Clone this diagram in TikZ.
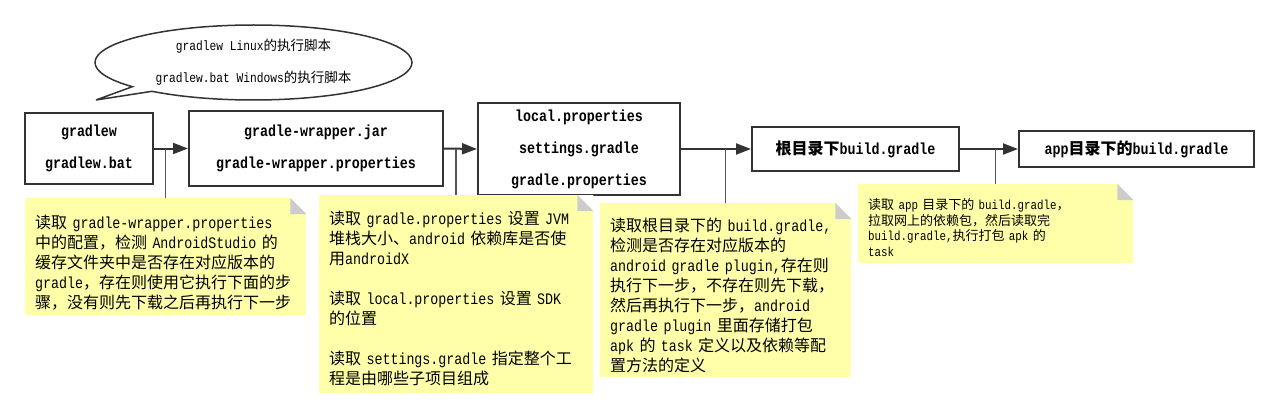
\documentclass[tikz,border=0pt]{standalone}
\usepackage{fontspec}
\usetikzlibrary{arrows.meta,shapes.callouts}
\setmainfont{Liberation Mono}[Scale=1.2, FakeStretch=0.833]
\newfontfamily\monofam{Liberation Mono}[Scale=1.2, FakeStretch=0.833]
\newfontfamily\cjkfam{Noto Sans CJK SC}[Scale=1.2]
% switch to the CJK font for Chinese characters
\XeTeXinterchartokenstate=1
\newXeTeXintercharclass\cjkclass
\newcount\cjkcode
\def\setcjkrange#1#2{\cjkcode=#1 \loop\XeTeXcharclass\cjkcode=\cjkclass \ifnum\cjkcode<#2 \advance\cjkcode by 1 \repeat}
\setcjkrange{"3000}{"303F}
\setcjkrange{"4E00}{"9FFF}
\setcjkrange{"FF00}{"FFEF}
\XeTeXinterchartoks 0 \cjkclass = {\cjkfam}
\XeTeXinterchartoks 4095 \cjkclass = {\cjkfam}
\XeTeXinterchartoks \cjkclass 0 = {\monofam}
\XeTeXinterchartoks \cjkclass 4095 = {\monofam}
\definecolor{boxline}{HTML}{333333}
\definecolor{notefill}{HTML}{FFFFAA}
\definecolor{foldgray}{HTML}{CCCCCC}
\definecolor{linkgray}{HTML}{555555}
\begin{document}
\begin{tikzpicture}[x=1pt, y=-1pt,
  box/.style = {draw=boxline, line width=2pt, align=center, inner sep=0pt, font=\fontsize{13.33}{32}\selectfont\bfseries},
  note/.style = {fill=notefill, anchor=north west, align=left, inner xsep=10pt, inner ysep=0pt, font=\fontsize{13.33}{20}\selectfont},
  arr/.style = {draw=boxline, line width=2pt, -{Triangle[length=15pt,width=11pt]}},
  link/.style = {draw=linkgray, line width=1.5pt}]
\useasboundingbox (0,0) rectangle (1279,417);

\node[box, minimum width=128pt, minimum height=71pt] (1) at (89,148.5) {gradlew\\gradlew.bat};
\node[box, minimum width=254pt, minimum height=75pt] (2) at (316,148.5) {gradle-wrapper.jar\\gradle-wrapper.properties};
\node[box, minimum width=202pt, minimum height=92pt] (3) at (579,149) {local.properties\\settings.gradle\\gradle.properties};
\node[box, minimum width=207pt, minimum height=44pt] (4) at (855.5,149) {根目录下build.gradle};
\node[box, minimum width=235pt, minimum height=36pt] (5) at (1136.5,149) {app目录下的build.gradle};

\node[ellipse callout, draw=boxline, line width=1.5pt, minimum width=317pt, minimum height=75pt, inner sep=0pt, align=center,
  callout absolute pointer={(96,100)}, callout pointer arc=10, font=\fontsize{11.25}{32}\selectfont] (c) at (253.5,62.5)
  {gradlew Linux的执行脚本\\gradlew.bat Windows的执行脚本};

\node[note, text width=261pt, text height=30pt, text depth=87pt] (n1) at (25,198)
  {读取 gradle-wrapper.properties\\中的配置，检测 AndroidStudio 的\\缓存文件夹中是否存在对应版本的\\gradle，存在则使用它执行下面的步\\骤，没有则先下载之后再执行下一步};
\node[note, text width=254pt, text height=29pt, text depth=169pt] (n2) at (319,195)
  {读取 gradle.properties 设置 JVM\\堆栈大小、android 依赖库是否使\\用androidX\\[20pt]读取 local.properties 设置 SDK\\的位置\\[20pt]读取 settings.gradle 指定整个工\\程是由哪些子项目组成};
\node[note, text width=231pt, text height=28pt, text depth=146pt] (n3) at (600,203)
  {读取根目录下的 build.gradle,\\检测是否存在对应版本的\\android gradle plugin,存在则\\执行下一步，不存在则先下载，\\然后再执行下一步，android\\gradle plugin 里面存储打包\\apk 的 task 定义以及依赖等配\\置方法的定义};
\node[note, text width=255pt, text height=25pt, text depth=54pt, font=\fontsize{10.83}{15.8}\selectfont] (n4) at (858,184)
  {读取 app 目录下的 build.gradle，\\拉取网上的依赖包，然后读取完\\build.gradle,执行打包 apk 的\\task};

% folded corners
\foreach \n in {n1,n2,n3,n4} {
  \fill[white] (\n.north east) -- ++(-16,0) -- ++(16,16) -- cycle;
  \fill[foldgray] (\n.north east) ++(-16,0) -- ++(0,16) -- ++(16,0) -- cycle;
}

\draw[arr] (1.east) -- (2.west);
\draw[arr] (2.east) -- (3.west);
\draw[arr] (3.east) -- (4.west);
\draw[arr] (4.east) -- (5.west);

\draw[link] (n1.north) -- (n1.north |- 1.east);
\draw[link] (n2.north) -- (n2.north |- 2.east);
\draw[link] (n3.north) -- (n3.north |- 3.east);
\draw[link] (n4.north) -- (n4.north |- 4.east);
\end{tikzpicture}
\end{document}
